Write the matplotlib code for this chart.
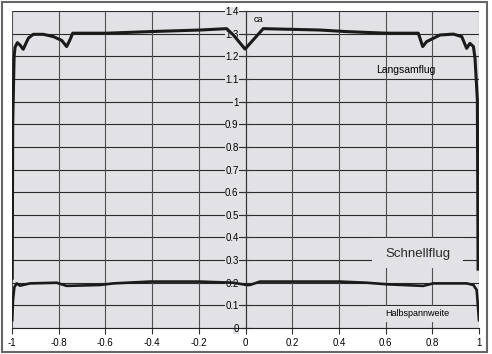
import matplotlib
matplotlib.use("Agg")
import matplotlib.pyplot as plt
from matplotlib.patches import Rectangle

plt.rcParams['font.family'] = ['Liberation Sans', 'DejaVu Sans']

# Langsamflug (slow flight) lift distribution
slow_x = [-0.999, -0.997, -0.991, -0.987, -0.977, -0.966, -0.952, -0.93, -0.909, -0.866,
          -0.823, -0.787, -0.766, -0.752, -0.74, -0.594, -0.409, -0.195, -0.081, -0.052,
          -0.002, 0.076, 0.319, 0.433, 0.605, 0.74, 0.759, 0.776, 0.833, 0.89,
          0.926, 0.947, 0.961, 0.976, 0.983, 0.993, 0.996]
slow_y = [0.22, 0.9, 1.197, 1.24, 1.26, 1.25, 1.231, 1.28, 1.297, 1.297,
          1.287, 1.27, 1.243, 1.272, 1.302, 1.302, 1.309, 1.316, 1.322, 1.294,
          1.232, 1.322, 1.316, 1.309, 1.302, 1.302, 1.243, 1.265, 1.294, 1.298,
          1.287, 1.235, 1.257, 1.243, 1.191, 1.007, 0.26]

# Schnellflug (fast flight) lift distribution
fast_x = [-0.999, -0.996, -0.99, -0.98, -0.966, -0.923, -0.809, -0.766, -0.623, -0.566,
          -0.409, -0.195, -0.052, 0.005, 0.019, 0.062, 0.405, 0.519, 0.605, 0.761,
          0.804, 0.947, 0.976, 0.99, 1.0]
fast_y = [0.035, 0.12, 0.18, 0.197, 0.187, 0.197, 0.2, 0.186, 0.19, 0.197,
          0.205, 0.205, 0.2, 0.19, 0.19, 0.205, 0.205, 0.2, 0.193, 0.186,
          0.197, 0.197, 0.19, 0.168, 0.035]

x_ticks = [-1, -0.8, -0.6, -0.4, -0.2, 0, 0.2, 0.4, 0.6, 0.8, 1]
y_ticks = [0, 0.1, 0.2, 0.3, 0.4, 0.5, 0.6, 0.7, 0.8, 0.9, 1, 1.1, 1.2, 1.3, 1.4]

bg = '#e2e2e6'

fig = plt.figure(figsize=(4.92, 3.54), dpi=100)
ax = fig.add_axes([12 / 492, 1 - 328 / 354, 467 / 492, 317 / 354])
ax.set_facecolor(bg)
ax.set_xlim(-1, 1)
ax.set_ylim(0, 1.4)

# grid
for yv in y_ticks:
    ax.axhline(yv, color='#2a2a2a', lw=0.8, zorder=1)
for xv in x_ticks:
    ax.axvline(xv, color='#505050', lw=0.8, zorder=1)

ax.plot(slow_x, slow_y, color='#1a1a1a', lw=2.2, zorder=4)
ax.plot(fast_x, fast_y, color='#1a1a1a', lw=1.9, zorder=4)

for s in ['top', 'right']:
    ax.spines[s].set_visible(False)
ax.spines['left'].set_position(('data', 0))
ax.spines['left'].set_color('#333333')
ax.spines['bottom'].set_color('#222222')
ax.spines['left'].set_zorder(3)

ax.set_xticks(x_ticks)
ax.set_xticklabels(['%g' % v for v in x_ticks])
ax.set_yticks(y_ticks)
ax.set_yticklabels(['%g' % v for v in y_ticks])
ax.tick_params(axis='x', direction='out', length=4, labelsize=7, pad=3, color='#333333')
ax.tick_params(axis='y', direction='inout', length=6, labelsize=7, pad=2, color='#333333')
for lab in ax.get_yticklabels():
    lab.set_bbox(dict(facecolor=bg, edgecolor='none', pad=0.3))
    lab.set_zorder(3)

# label boxes
ax.add_patch(Rectangle((0.542, 0.265), 0.389, 0.132, facecolor=bg, edgecolor='none', zorder=2))
ax.text(0.737, 0.325, 'Schnellflug', fontsize=9.5, color='#2a2a2a', ha='center', va='center', zorder=5)
ax.add_patch(Rectangle((0.525, 0.027), 0.44, 0.07, facecolor=bg, edgecolor='none', zorder=2))
ax.text(0.734, 0.062, 'Halbspannweite', fontsize=6.5, ha='center', va='center', zorder=5)
ax.text(0.685, 1.14, 'Langsamflug', fontsize=7.5, ha='center', va='center', zorder=5)
ax.text(0.054, 1.363, 'ca', fontsize=6.5, ha='center', va='center', zorder=5)

# outer frame
fig.patches.append(Rectangle((2 / 492, 2 / 354), 485 / 492, 350 / 354, transform=fig.transFigure,
                             fill=False, edgecolor='#666666', lw=1.5))

fig.savefig('out.png', dpi=100)
